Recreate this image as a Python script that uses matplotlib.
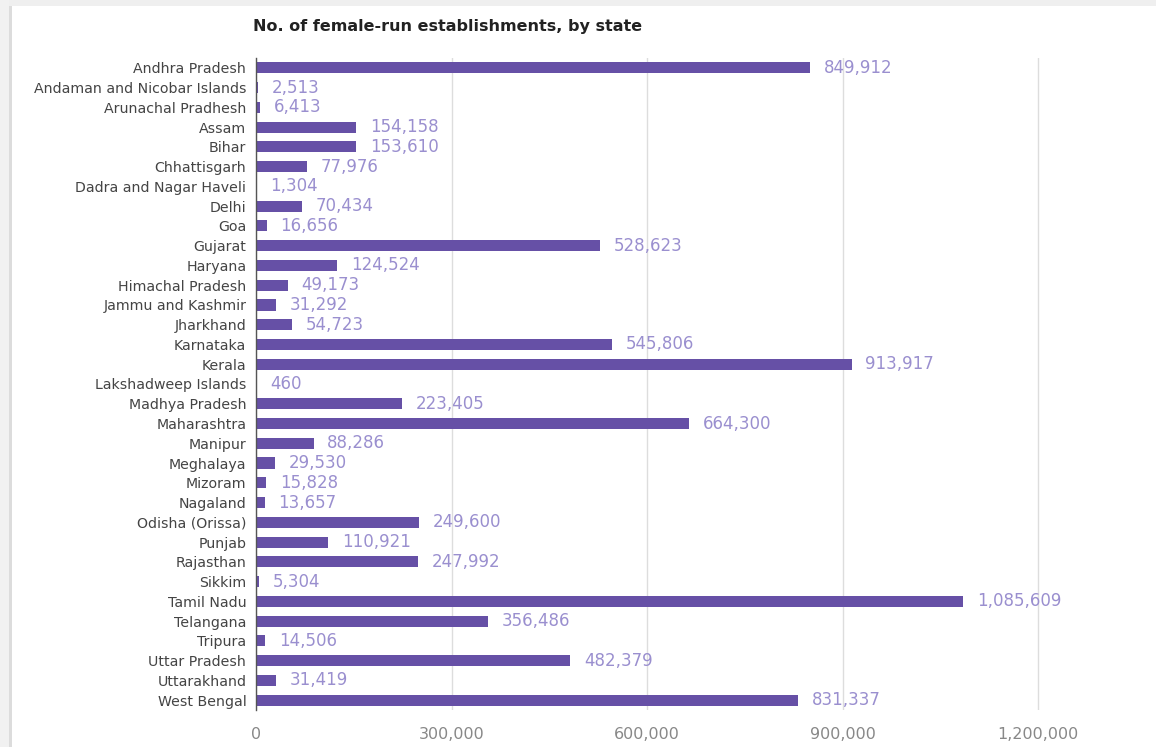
import matplotlib
matplotlib.use("Agg")
import matplotlib.pyplot as plt
from matplotlib.patches import Rectangle
from matplotlib.ticker import FuncFormatter

states = ["Andhra Pradesh", "Andaman and Nicobar Islands", "Arunachal Pradhesh", "Assam",
          "Bihar", "Chhattisgarh", "Dadra and Nagar Haveli", "Delhi", "Goa", "Gujarat",
          "Haryana", "Himachal Pradesh", "Jammu and Kashmir", "Jharkhand", "Karnataka",
          "Kerala", "Lakshadweep Islands", "Madhya Pradesh", "Maharashtra", "Manipur",
          "Meghalaya", "Mizoram", "Nagaland", "Odisha (Orissa)", "Punjab", "Rajasthan",
          "Sikkim", "Tamil Nadu", "Telangana", "Tripura", "Uttar Pradesh", "Uttarakhand",
          "West Bengal"]
values = [849912, 2513, 6413, 154158, 153610, 77976, 1304, 70434, 16656, 528623,
          124524, 49173, 31292, 54723, 545806, 913917, 460, 223405, 664300, 88286,
          29530, 15828, 13657, 249600, 110921, 247992, 5304, 1085609, 356486, 14506,
          482379, 31419, 831337]
x_ticks = [0, 300000, 600000, 900000, 1200000]
title = "No. of female-run establishments, by state"

plt.rcParams['font.family'] = ['DejaVu Sans']

fig = plt.figure(figsize=(11.56, 7.47), dpi=100)
W, H = 1156, 747

# screenshot frame
fig.patches.append(Rectangle((0, 1 - 6 / H), 1, 6 / H, transform=fig.transFigure,
                             facecolor="#efefef", edgecolor="none", zorder=0))
fig.patches.append(Rectangle((0, 0), 9 / W, 1, transform=fig.transFigure,
                             facecolor="#f1f1f1", edgecolor="none", zorder=0))
fig.patches.append(Rectangle((9 / W, 0), 3 / W, 1 - 6 / H, transform=fig.transFigure,
                             facecolor="#dcdcdc", edgecolor="none", zorder=0))

left, right = 256 / W, 1100 / W
bottom, top = 1 - 710 / H, 1 - 58 / H
ax = fig.add_axes([left, bottom, right - left, top - bottom])

bar_color = "#6650a6"
label_color = "#9a8fcf"
y = list(range(len(states)))
ax.barh(y, values, height=0.56, color=bar_color, zorder=3)
ax.set_ylim(len(states) - 0.5, -0.5)
xmax = (1100 - 256) / 195.5 * 300000
ax.set_xlim(0, xmax)

for yi, v in zip(y, values):
    ax.text(v + 21000, yi, f"{v:,}", va="center", ha="left", fontsize=12,
            color=label_color, zorder=4)

ax.set_yticks(y)
ax.set_yticklabels(states, fontsize=10.2, color="#444444")
ax.set_xticks(x_ticks)
ax.xaxis.set_major_formatter(FuncFormatter(lambda v, p: f"{int(v):,}"))
ax.tick_params(axis="x", labelsize=11.5, colors="#888888", length=0, pad=12)
ax.tick_params(axis="y", length=0, pad=7)

ax.grid(axis="x", color="#dddddd", linewidth=1, zorder=0)
for s in ["top", "right", "bottom"]:
    ax.spines[s].set_visible(False)
ax.spines["left"].set_color("#555555")
ax.spines["left"].set_linewidth(1)
ax.spines["left"].set_zorder(5)

fig.text(253 / W, 1 - 27 / H, title, fontsize=11.5, fontweight="bold",
         color="#222222", va="center", ha="left")

fig.savefig("out.png", dpi=100)
